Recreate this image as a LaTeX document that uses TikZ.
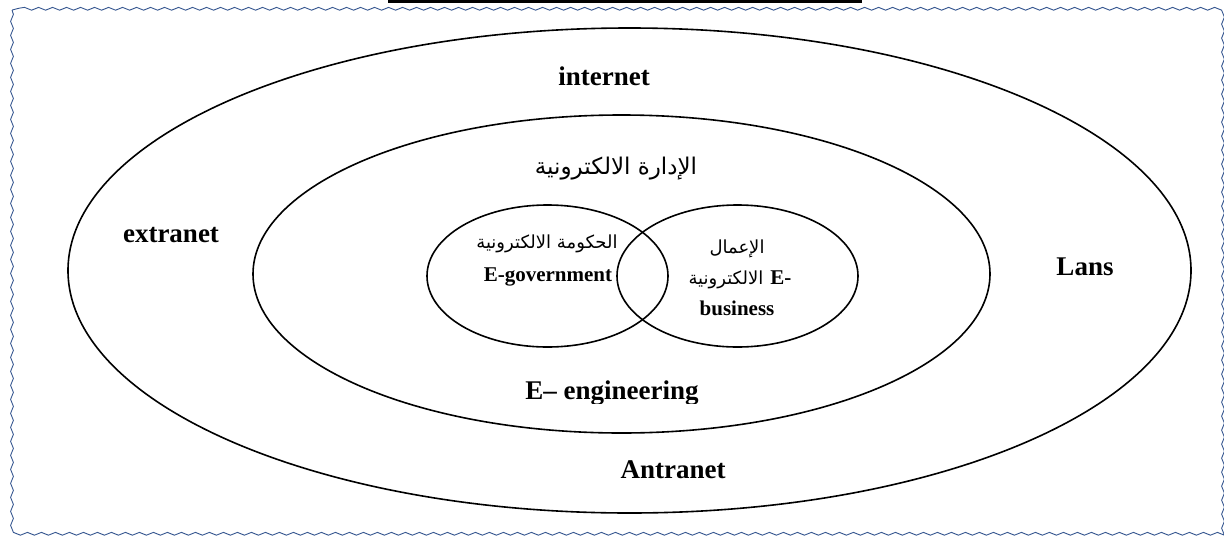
\documentclass[tikz,border=0pt]{standalone}
\usepackage{fontspec}
\setmainfont{Liberation Serif}
\newfontfamily\arabicfont[Script=Arabic]{DejaVu Sans}
\TeXXeTstate=1
\usetikzlibrary{shapes.geometric,decorations.pathmorphing}
\definecolor{borderblue}{HTML}{34558F}
\tikzset{
  ring/.style={ellipse, draw=black, line width=1.6pt, inner sep=0pt},
  biglabel/.style={font=\fontsize{27}{30}\selectfont\bfseries, anchor=base, inner sep=0pt},
  smalllabel/.style={font=\fontsize{21}{24}\selectfont\bfseries, anchor=base, inner sep=0pt},
  arlabel/.style={font=\arabicfont\fontsize{18}{21}\selectfont, anchor=base, inner sep=0pt},
  pageframe/.style={draw=borderblue, line width=0.9pt, decorate,
    decoration={snake, amplitude=1.4pt, segment length=14pt}}
}
\begin{document}
\begin{tikzpicture}[x=1pt, y=-1pt]
\useasboundingbox (0,0) rectangle (1224,536);
% wavy page frame and top rule
\draw[pageframe] (12,10) rectangle (1220,532);
\fill[black] (388,0) rectangle (862,2.6);

% nested ellipses
\node[ring, minimum width=1123pt, minimum height=485pt] (net) at (629.5,270.5) {};
\node[ring, minimum width=737pt, minimum height=318pt] (eadmin) at (621.5,274) {};
\node[ring, minimum width=241pt, minimum height=142pt] (egov) at (547.5,276) {};
\node[ring, minimum width=241pt, minimum height=142pt] (ebus) at (737.5,276) {};

% outer ring labels
\node[biglabel] (internet) at (604,85) {internet};
\node[biglabel] (extranet) at (171,242) {extranet};
\node[biglabel] (lans) at (1085,275) {Lans};
\node[biglabel] (antranet) at (673,478) {Antranet};
\begin{scope}
  \clip (400,300) rectangle (830,403);
  \node[biglabel] (eeng) at (612,399) {E– engineering};
\end{scope}

% middle ring label
\begin{scope}
  \clip (480,140) rectangle (760,183);
  \node[arlabel, font=\arabicfont\fontsize{23}{27}\selectfont] (admin) at (616,174) {\beginR الإدارة الالكترونية\endR};
\end{scope}

% e-government
\node[arlabel] (govar) at (547,248) {\beginR الحكومة الالكترونية\endR};
\node[smalllabel] (goven) at (548,281) {E-government};

% e-business
\node[arlabel] (busar1) at (737,253) {\beginR الإعمال\endR};
\node[anchor=base, inner sep=0pt] (busar2) at (740,284)
  {{\arabicfont\fontsize{18}{21}\selectfont\beginR الالكترونية\endR}\hspace{7pt}{\fontsize{21}{24}\selectfont\bfseries E-}};
\node[smalllabel] (busen) at (737,315) {business};
\end{tikzpicture}
\end{document}
